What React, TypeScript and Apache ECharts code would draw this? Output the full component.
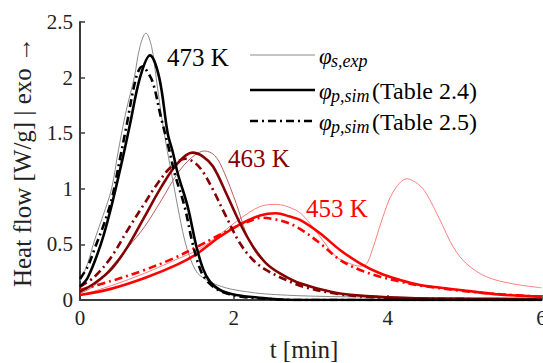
import React, { useEffect, useRef } from "react";
import * as echarts from "echarts";

// Axis ticks
const xTicks = [0, 2, 4, 6];
const yTicks = [0, 0.5, 1, 1.5, 2, 2.5];

// 473 K
const exp473: [number, number][] = [
  [0, 0.17], [0.1, 0.33], [0.19, 0.54], [0.3, 0.76], [0.41, 1.0], [0.5, 1.35], [0.6, 1.7],
  [0.705, 2.0], [0.78, 2.28], [0.857, 2.4], [0.93, 2.28], [0.99, 2.0], [1.05, 1.7],
  [1.12, 1.4], [1.19, 1.14], [1.27, 0.84], [1.36, 0.54], [1.43, 0.38], [1.5, 0.27],
  [1.56, 0.22], [1.73, 0.15], [1.95, 0.1], [2.16, 0.075], [2.4, 0.055], [3, 0.035],
  [4, 0.025], [5, 0.02], [6, 0.02],
];
const simA473: [number, number][] = [
  [0, 0.12], [0.1, 0.2], [0.27, 0.5], [0.4, 0.82], [0.55, 1.26], [0.65, 1.58], [0.78, 2.0],
  [0.91, 2.2], [1.03, 2.0], [1.14, 1.5], [1.21, 1.32], [1.27, 1.14], [1.4, 0.84],
  [1.51, 0.49], [1.6, 0.28], [1.69, 0.165], [1.82, 0.09], [2.03, 0.045], [2.38, 0.018],
  [2.6, 0.005], [3, 0], [4, 0], [5, 0], [6, 0],
];
const simB473: [number, number][] = [
  [0, 0.19], [0.1, 0.3], [0.2, 0.48], [0.3, 0.66], [0.41, 0.9], [0.52, 1.27], [0.6, 1.55],
  [0.73, 2.0], [0.81, 2.1], [0.87, 2.06], [0.95, 1.95], [1.05, 1.65], [1.16, 1.35],
  [1.23, 1.14], [1.36, 0.84], [1.46, 0.52], [1.55, 0.3], [1.62, 0.2], [1.75, 0.11],
  [1.9, 0.06], [2.1, 0.03], [2.4, 0.012], [2.8, 0], [4, 0], [5, 0], [6, 0],
];

// 463 K
const exp463: [number, number][] = [
  [0, 0.06], [0.19, 0.13], [0.41, 0.3], [0.62, 0.47], [0.84, 0.66], [1.06, 0.9],
  [1.27, 1.14], [1.45, 1.28], [1.62, 1.34], [1.75, 1.3], [1.86, 1.17], [2.03, 0.87],
  [2.16, 0.6], [2.29, 0.42], [2.45, 0.31], [2.6, 0.24], [2.9, 0.14], [3.3, 0.07],
  [3.7, 0.04], [4.5, 0.02], [6, 0.01],
];
const simA463: [number, number][] = [
  [0, 0.075], [0.19, 0.15], [0.41, 0.28], [0.62, 0.48], [0.84, 0.75], [1.06, 1.02],
  [1.27, 1.23], [1.46, 1.325], [1.6, 1.29], [1.73, 1.2], [1.9, 0.96], [2.08, 0.69],
  [2.25, 0.48], [2.42, 0.33], [2.6, 0.24], [2.86, 0.15], [3.29, 0.07], [3.72, 0.035],
  [4.4, 0.015], [5, 0.01], [6, 0.005],
];
const simB463: [number, number][] = [
  [0, 0.12], [0.19, 0.21], [0.41, 0.39], [0.62, 0.63], [0.84, 0.87], [1.01, 1.05],
  [1.19, 1.2], [1.37, 1.27], [1.5, 1.23], [1.6, 1.15], [1.73, 0.99], [1.9, 0.75],
  [2.08, 0.51], [2.25, 0.36], [2.42, 0.27], [2.68, 0.18], [2.9, 0.12], [3.3, 0.06],
  [3.7, 0.03], [4.4, 0.012], [6, 0.005],
];

// 453 K
const exp453: [number, number][] = [
  [0, 0.04], [0.41, 0.13], [0.84, 0.24], [1.27, 0.37], [1.53, 0.45], [1.8, 0.58],
  [2.08, 0.73], [2.34, 0.84], [2.55, 0.86], [2.77, 0.82], [2.9, 0.76], [3.12, 0.57],
  [3.33, 0.39], [3.5, 0.33], [3.64, 0.305], [3.72, 0.32], [3.8, 0.45], [3.94, 0.75],
  [4.07, 0.97], [4.25, 1.09], [4.4, 1.04], [4.5, 0.96], [4.68, 0.72], [4.85, 0.48],
  [5.02, 0.33], [5.28, 0.21], [5.63, 0.145], [6, 0.11],
];
const simA453: [number, number][] = [
  [0, 0.045], [0.4, 0.1], [0.85, 0.2], [1.27, 0.32], [1.53, 0.42], [1.8, 0.56],
  [2.08, 0.68], [2.34, 0.76], [2.55, 0.78], [2.73, 0.75], [2.86, 0.72], [3.12, 0.6],
  [3.38, 0.45], [3.64, 0.33], [3.9, 0.24], [4.16, 0.18], [4.42, 0.135], [4.7, 0.11],
  [5.0, 0.085], [5.45, 0.05], [6, 0.03],
];
const simB453: [number, number][] = [
  [0, 0.09], [0.4, 0.17], [0.8, 0.26], [1.2, 0.37], [1.5, 0.47], [1.8, 0.58],
  [2.1, 0.68], [2.38, 0.74], [2.5, 0.73], [2.68, 0.7], [2.86, 0.64], [3.12, 0.51],
  [3.38, 0.36], [3.64, 0.27], [3.9, 0.21], [4.16, 0.165], [4.42, 0.13], [5, 0.08],
  [5.5, 0.05], [6, 0.03],
];

const tempLabels = ["473 K", "463 K", "453 K"];
const legendSub = ["s,exp", "p,sim", "p,sim"];
const legendSuffix = ["", "(Table 2.4)", "(Table 2.5)"];

const FONT = "Liberation Serif";
const DASH = [8, 4, 2, 4];

export default function App() {
  const ref = useRef<HTMLDivElement>(null);
  useEffect(() => {
    if (!ref.current) return;
    const chart = echarts.init(ref.current, undefined, { renderer: "svg" });
    const black = "#000000";
    const gray = "#8a8a8a";
    const dred = "#850000";
    const dredL = "#b86060";
    const red = "#ff0000";
    const redL = "#ff8080";

    const mk = (data: [number, number][], color: string, width: number, dash?: number[]) => ({
      type: "line",
      data,
      smooth: 0.35,
      showSymbol: false,
      symbol: "none",
      lineStyle: { color, width, type: dash ? dash : "solid" },
      z: 2,
    });

    const txt = (x: number, y: number, text: string, size: number, fill: string, extra: any = {}) => ({
      type: "text",
      x,
      y,
      style: {
        text,
        fontFamily: FONT,
        fontSize: size,
        fill,
        textVerticalAlign: "middle",
        ...extra,
      },
    });

    const legendRows = [55, 90, 121];
    const legendGraphics: any[] = [];
    legendRows.forEach((y, i) => {
      legendGraphics.push({
        type: "line",
        shape: { x1: 250, y1: y, x2: 315, y2: y },
        style: {
          stroke: i === 0 ? gray : black,
          lineWidth: i === 0 ? 1 : 2.6,
          lineDash: i === 2 ? DASH : null,
        },
      });
      legendGraphics.push(txt(319, y + 1, "φ", 23, "#000", { fontStyle: "italic" }));
      legendGraphics.push(txt(331, y + 6, legendSub[i], 18, "#000", { fontStyle: "italic" }));
      if (legendSuffix[i]) {
        legendGraphics.push(txt(372, y + 1, legendSuffix[i], 24, "#000"));
      }
    });

    const axisCommon = {
      axisLine: { show: true, lineStyle: { color: "#3a3a3a", width: 2 } },
      axisTick: { show: true, inside: true, length: 5, lineStyle: { color: "#3a3a3a", width: 1.5 } },
      axisLabel: { fontSize: 21, fontFamily: FONT, color: "#222", margin: 7 },
      splitLine: { show: false },
    };

    chart.setOption({
      animation: false,
      grid: { left: 80, right: 1.5, top: 22, bottom: 63, containLabel: false, outerBoundsMode: "none" },
      xAxis: {
        type: "value",
        min: xTicks[0],
        max: xTicks[xTicks.length - 1],
        interval: 2,
        ...axisCommon,
      },
      yAxis: {
        type: "value",
        min: yTicks[0],
        max: yTicks[yTicks.length - 1],
        interval: 0.5,
        ...axisCommon,
      },
      series: [
        mk(exp453, redL, 1),
        mk(exp463, dredL, 1),
        mk(exp473, gray, 1),
        mk(simA453, red, 2.6),
        mk(simB453, red, 2.6, DASH),
        mk(simA463, dred, 2.6),
        mk(simB463, dred, 2.6, DASH),
        mk(simA473, black, 2.6),
        mk(simB473, black, 2.6, DASH),
      ],
      graphic: [
        txt(167, 57, tempLabels[0], 25, black),
        txt(228, 158, tempLabels[1], 25, dred),
        txt(306, 208, tempLabels[2], 25, red),
        txt(304, 349, "t [min]", 25, "#222", { textAlign: "center" }),
        {
          type: "text",
          x: 22,
          y: 162,
          rotation: Math.PI / 2,
          style: {
            text: "Heat flow [W/g] | exo →",
            fontFamily: FONT,
            fontSize: 25,
            fill: "#222",
            textAlign: "center",
            textVerticalAlign: "middle",
          },
        },
        ...legendGraphics,
      ],
    });
    return () => chart.dispose();
  }, []);
  return (
    <div
      ref={ref}
      style={{ position: "fixed", left: 0, top: 0, width: 543, height: 363, background: "#fff" }}
    />
  );
}
